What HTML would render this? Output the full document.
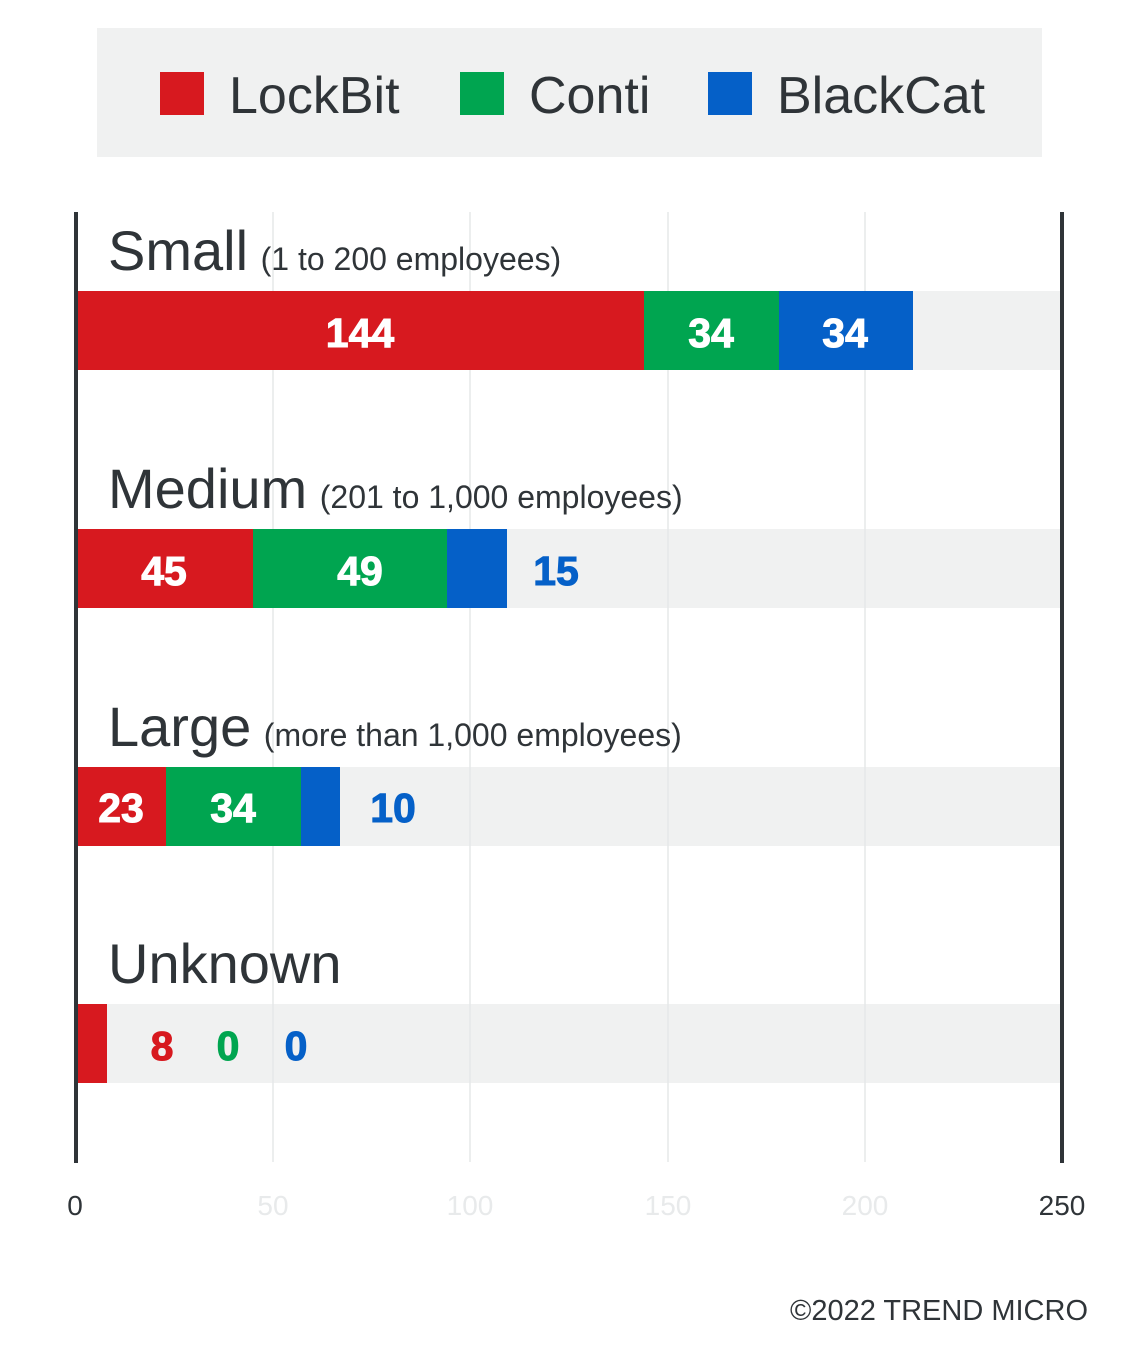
<!DOCTYPE html>
<html><head><style>
html,body{margin:0;padding:0;background:#fff;}
svg{display:block;}
text{font-family:"Liberation Sans",sans-serif;}
</style></head><body>
<svg width="1126" height="1356" viewBox="0 0 1126 1356">
<rect x="97" y="28" width="945" height="129" fill="#f0f1f1"/>
<rect x="160" y="72" width="44" height="43" fill="#d7191f"/>
<text x="229" y="113" font-size="52" fill="#2f3438">LockBit</text>
<rect x="460" y="72" width="44" height="43" fill="#00a550"/>
<text x="529" y="113" font-size="52" fill="#2f3438">Conti</text>
<rect x="708" y="72" width="44" height="43" fill="#0560c8"/>
<text x="777" y="113" font-size="52" fill="#2f3438">BlackCat</text>

<g fill="#f0f1f1">
<rect x="75" y="291" width="987" height="79"/>
<rect x="75" y="529" width="987" height="79"/>
<rect x="75" y="767" width="987" height="79"/>
<rect x="75" y="1004" width="987" height="79"/>
</g>
<g stroke="#e6e8e9" stroke-width="1.5">
<line x1="273" y1="212" x2="273" y2="1162"/>
<line x1="470" y1="212" x2="470" y2="1162"/>
<line x1="668" y1="212" x2="668" y2="1162"/>
<line x1="865" y1="212" x2="865" y2="1162"/>
</g>

<rect x="75" y="291" width="569" height="79" fill="#d7191f"/>
<rect x="644" y="291" width="135" height="79" fill="#00a550"/>
<rect x="779" y="291" width="134" height="79" fill="#0560c8"/>

<rect x="75" y="529" width="178" height="79" fill="#d7191f"/>
<rect x="253" y="529" width="194" height="79" fill="#00a550"/>
<rect x="447" y="529" width="60" height="79" fill="#0560c8"/>

<rect x="75" y="767" width="91" height="79" fill="#d7191f"/>
<rect x="166" y="767" width="135" height="79" fill="#00a550"/>
<rect x="301" y="767" width="39" height="79" fill="#0560c8"/>

<rect x="75" y="1004" width="32" height="79" fill="#d7191f"/>

<g font-size="41" font-weight="bold" text-anchor="middle" fill="#fff" stroke-width="1">
<text x="360" y="347" stroke="#fff">144</text>
<text x="711" y="347" stroke="#fff">34</text>
<text x="845" y="347" stroke="#fff">34</text>
<text x="164" y="585" stroke="#fff">45</text>
<text x="360" y="585" stroke="#fff">49</text>
<text x="556" y="585" fill="#0560c8" stroke="#0560c8">15</text>
<text x="121" y="822" stroke="#fff">23</text>
<text x="233" y="822" stroke="#fff">34</text>
<text x="393" y="822" fill="#0560c8" stroke="#0560c8">10</text>
<text x="162" y="1060" fill="#d7191f" stroke="#d7191f">8</text>
<text x="228" y="1060" fill="#00a550" stroke="#00a550">0</text>
<text x="296" y="1060" fill="#0560c8" stroke="#0560c8">0</text>
</g>

<g fill="#2f3438">
<text x="108" y="270" font-size="56">Small <tspan font-size="32" dx="-3">(1 to 200 employees)</tspan></text>
<text x="108" y="508" font-size="56">Medium <tspan font-size="32" dx="-3">(201 to 1,000 employees)</tspan></text>
<text x="108" y="746" font-size="56">Large <tspan font-size="32" dx="-3">(more than 1,000 employees)</tspan></text>
<text x="108" y="983" font-size="56">Unknown</text>
</g>

<rect x="74" y="212" width="4" height="951" fill="#2f3438"/>
<rect x="1060" y="212" width="4" height="951" fill="#2f3438"/>

<g font-size="28" text-anchor="middle">
<text x="75" y="1215" fill="#2f3438">0</text>
<text x="273" y="1215" fill="#e8eaeb">50</text>
<text x="470" y="1215" fill="#e8eaeb">100</text>
<text x="668" y="1215" fill="#e8eaeb">150</text>
<text x="865" y="1215" fill="#e8eaeb">200</text>
<text x="1062" y="1215" fill="#2f3438">250</text>
</g>
<text x="1088" y="1320" font-size="29" text-anchor="end" fill="#2f3438">©2022 TREND MICRO</text>
</svg>
</body></html>
